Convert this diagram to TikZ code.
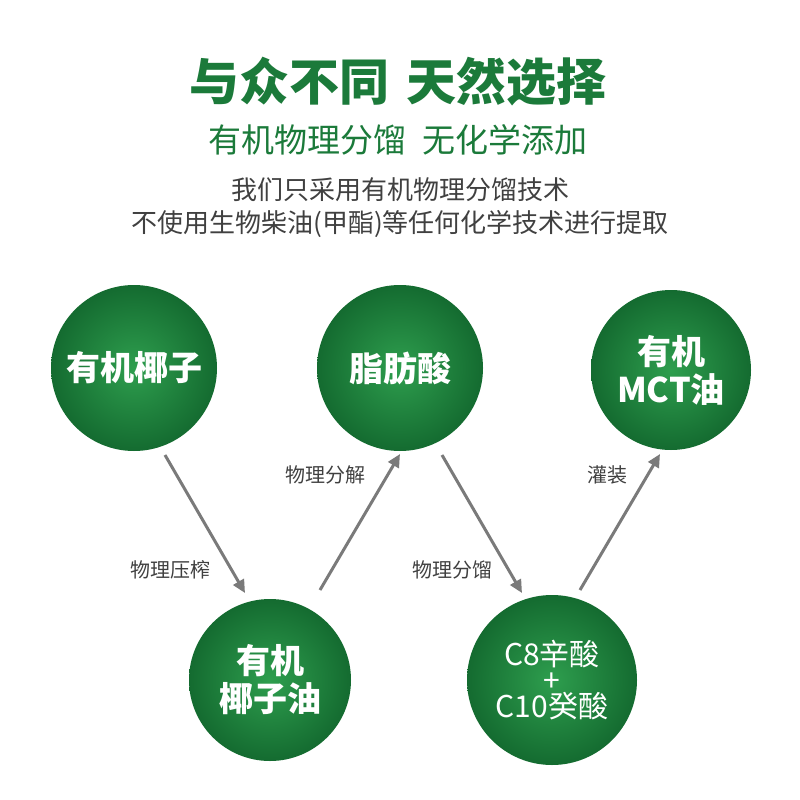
\documentclass[tikz,border=0pt]{standalone}
\usepackage{fontspec}
\setmainfont{Noto Sans CJK SC}
\usetikzlibrary{arrows.meta}
\definecolor{tgreen}{HTML}{1B7A3A}
\definecolor{cedge}{HTML}{146B30}
\definecolor{ccent}{HTML}{2E9E4E}
\definecolor{tgray}{HTML}{404040}
\definecolor{agray}{HTML}{7A7A7A}
\tikzset{
 ball/.style={circle,minimum size=#1,inner color=ccent,outer color=cedge,text=white,font=\bfseries\fontsize{34}{38}\selectfont,align=center},
 flow/.style={agray,line width=3pt,-{Triangle[length=13pt,width=12pt]}},
 lab/.style={text=tgray,font=\fontsize{20}{22}\selectfont}
}
\begin{document}
\begin{tikzpicture}[x=1pt,y=-1pt]
\useasboundingbox (0,0) rectangle (800,800);
\node[text=tgreen,font=\bfseries\fontsize{50}{56}\selectfont] (t1) at (398,82) {与众不同\,\,天然选择};
\node[text=tgreen,font=\fontsize{33}{36}\selectfont] (t2) at (398,140) {有机物理分馏\,\,\,无化学添加};
\node[text=tgray,font=\fontsize{26}{30}\selectfont] (t3) at (400,190) {我们只采用有机物理分馏技术};
\node[text=tgray,font=\fontsize{26}{30}\selectfont] (t4) at (400,224) {不使用生物柴油(甲酯)等任何化学技术进行提取};
\node[ball=166pt] (a) at (134,368) {有机椰子};
\node[ball=166pt] (b) at (400,368) {脂肪酸};
\node[ball=160pt] (c) at (671,370) {有机\\MCT油};
\node[ball=162pt] (d) at (270,680) {有机\\椰子油};
\node[ball=170pt,font=\fontsize{30}{30}\selectfont] (e) at (552,680) {C8辛酸\\[-4pt]+\\[-4pt]C10癸酸};
\coordinate (a1) at (165,455); \coordinate (d1) at (245,593);
\coordinate (d2) at (320,590); \coordinate (b1) at (400,454);
\coordinate (b2) at (442,455); \coordinate (e1) at (522,593);
\coordinate (e2) at (580,590); \coordinate (c1) at (660,454);
\draw[flow] (a1) -- (d1);
\draw[flow] (d2) -- (b1);
\draw[flow] (b2) -- (e1);
\draw[flow] (e2) -- (c1);
\node[lab] (l1) at (170,570) {物理压榨};
\node[lab] (l2) at (325,475) {物理分解};
\node[lab] (l3) at (452,570) {物理分馏};
\node[lab] (l4) at (607,475) {灌装};
\end{tikzpicture}
\end{document}
